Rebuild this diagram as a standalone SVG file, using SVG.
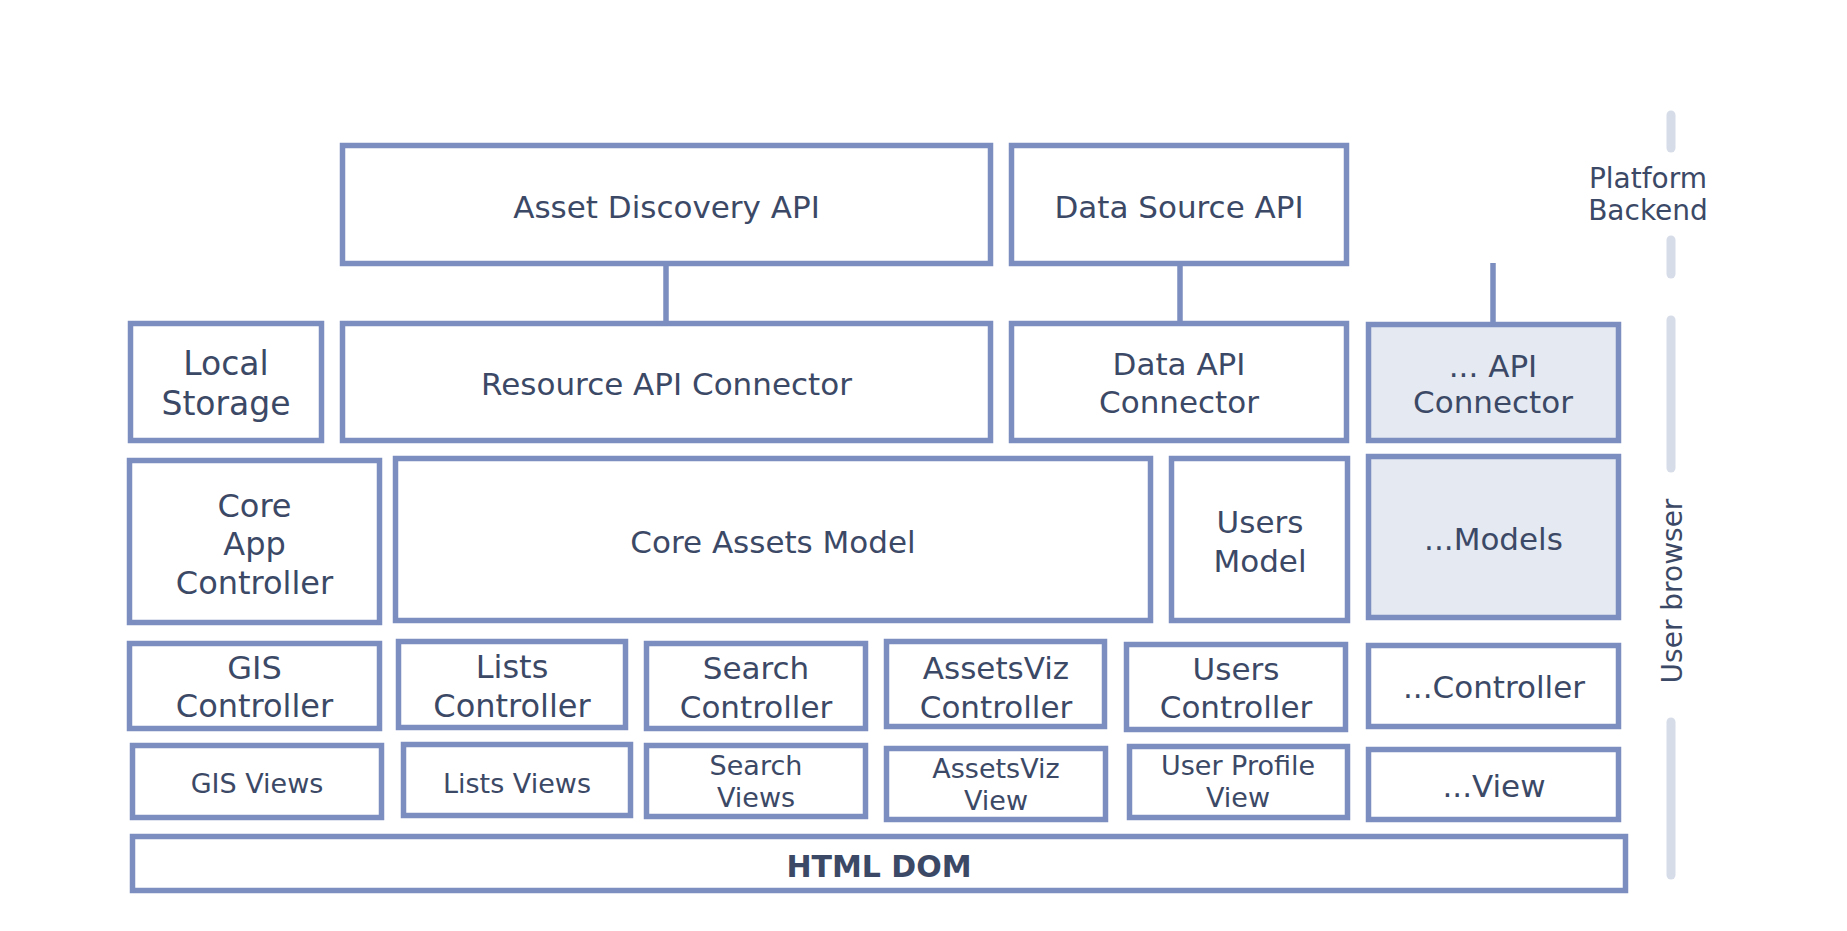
<svg xmlns="http://www.w3.org/2000/svg" width="1847" height="931" viewBox="0 0 1847 931">
<style>
.box{fill:#ffffff;stroke:#7b8ebf;stroke-width:5.5}
.alt{fill:#e5e9f2;stroke:#7b8ebf;stroke-width:5.5}
.t{font-family:"DejaVu Sans",sans-serif;font-size:31px;fill:#3c4966;text-anchor:middle}
.m{font-size:32px}
.l{font-size:33px}
.s{font-size:27px}
.b{font-weight:bold;font-size:30px}
.side{font-family:"DejaVu Sans",sans-serif;font-size:28px;fill:#3c4966;text-anchor:middle}
.conn{stroke:#7b8ebf;stroke-width:5.5;fill:none}
.bar{stroke:#d6dce8;stroke-width:9;stroke-linecap:round;fill:none}
</style>
<rect width="1847" height="931" fill="#ffffff"/>
<g id="connectors">
<line class="conn" x1="666" y1="264" x2="666" y2="324"/>
<line class="conn" x1="1180" y1="264" x2="1180" y2="324"/>
<line class="conn" x1="1493" y1="263" x2="1493" y2="325"/>
</g>
<g id="side-bars">
<line class="bar" x1="1671" y1="115" x2="1671" y2="148"/>
<line class="bar" x1="1671" y1="240" x2="1671" y2="274"/>
<line class="bar" x1="1671" y1="320" x2="1671" y2="468"/>
<line class="bar" x1="1671" y1="722" x2="1671" y2="875"/>
<text class="side" x="1648" y="188">Platform</text>
<text class="side" x="1648" y="220">Backend</text>
<text class="side" transform="translate(1682 591) rotate(-90)" x="0" y="0">User browser</text>
</g>
<g id="asset-discovery-api"><rect class="box" x="342.5" y="145.5" width="648" height="118"/><text class="t" x="666.5" y="218">Asset Discovery API</text></g>
<g id="data-source-api"><rect class="box" x="1011.5" y="145.5" width="335" height="118"/><text class="t" x="1179" y="218">Data Source API</text></g>
<g id="local-storage"><rect class="box" x="130.5" y="323.5" width="191" height="117"/><text class="t l" x="226" y="375">Local</text><text class="t l" x="226" y="415">Storage</text></g>
<g id="resource-api-connector"><rect class="box" x="342.5" y="323.5" width="648" height="117"/><text class="t" x="666.5" y="395">Resource API Connector</text></g>
<g id="data-api-connector"><rect class="box" x="1011.5" y="323.5" width="335" height="117"/><text class="t" x="1179" y="375">Data API</text><text class="t" x="1179" y="413">Connector</text></g>
<g id="other-api-connector"><rect class="alt" x="1368.5" y="324.5" width="250" height="116"/><text class="t" x="1493" y="377">... API</text><text class="t" x="1493" y="413">Connector</text></g>
<g id="core-app-controller"><rect class="box" x="129.5" y="460.5" width="250" height="162"/><text class="t m" x="254.5" y="517">Core</text><text class="t m" x="254.5" y="555">App</text><text class="t m" x="254.5" y="594">Controller</text></g>
<g id="core-assets-model"><rect class="box" x="395.5" y="458.5" width="755" height="162"/><text class="t" x="773" y="553">Core Assets Model</text></g>
<g id="users-model"><rect class="box" x="1171.5" y="458.5" width="176" height="162"/><text class="t" x="1260" y="533">Users</text><text class="t" x="1260" y="572">Model</text></g>
<g id="other-models"><rect class="alt" x="1368.5" y="456.5" width="250" height="161"/><text class="t" x="1493.5" y="550">...Models</text></g>
<g id="gis-controller"><rect class="box" x="129.5" y="643.5" width="250" height="85"/><text class="t m" x="254.5" y="679">GIS</text><text class="t m" x="254.5" y="717">Controller</text></g>
<g id="lists-controller"><rect class="box" x="398.5" y="641.5" width="227" height="86"/><text class="t m" x="512" y="678">Lists</text><text class="t m" x="512" y="717">Controller</text></g>
<g id="search-controller"><rect class="box" x="646.5" y="643.5" width="219" height="85"/><text class="t" x="756" y="679">Search</text><text class="t" x="756" y="718">Controller</text></g>
<g id="assetsviz-controller"><rect class="box" x="886.5" y="641.5" width="218" height="85"/><text class="t" x="996" y="679">AssetsViz</text><text class="t" x="996" y="718">Controller</text></g>
<g id="users-controller"><rect class="box" x="1126.5" y="644.5" width="219" height="85"/><text class="t" x="1236" y="680">Users</text><text class="t" x="1236" y="718">Controller</text></g>
<g id="other-controller"><rect class="box" x="1368.5" y="645.5" width="250" height="81"/><text class="t" x="1494" y="698">...Controller</text></g>
<g id="gis-views"><rect class="box" x="132.5" y="745.5" width="249" height="72"/><text class="t s" x="257" y="793">GIS Views</text></g>
<g id="lists-views"><rect class="box" x="403.5" y="744.5" width="227" height="71"/><text class="t s" x="517" y="793">Lists Views</text></g>
<g id="search-views"><rect class="box" x="646.5" y="745.5" width="219" height="71"/><text class="t s" x="756" y="775">Search</text><text class="t s" x="756" y="807">Views</text></g>
<g id="assetsviz-view"><rect class="box" x="886.5" y="748.5" width="219" height="71"/><text class="t s" x="996" y="778">AssetsViz</text><text class="t s" x="996" y="810">View</text></g>
<g id="user-profile-view"><rect class="box" x="1129.5" y="746.5" width="218" height="71"/><text class="t s" x="1238" y="775">User Profile</text><text class="t s" x="1238" y="807">View</text></g>
<g id="other-view"><rect class="box" x="1368.5" y="749.5" width="250" height="70"/><text class="t" x="1494" y="797">...View</text></g>
<g id="html-dom"><rect class="box" x="132.5" y="836.5" width="1493" height="54"/><text class="t b" x="879" y="877">HTML DOM</text></g>
</svg>
